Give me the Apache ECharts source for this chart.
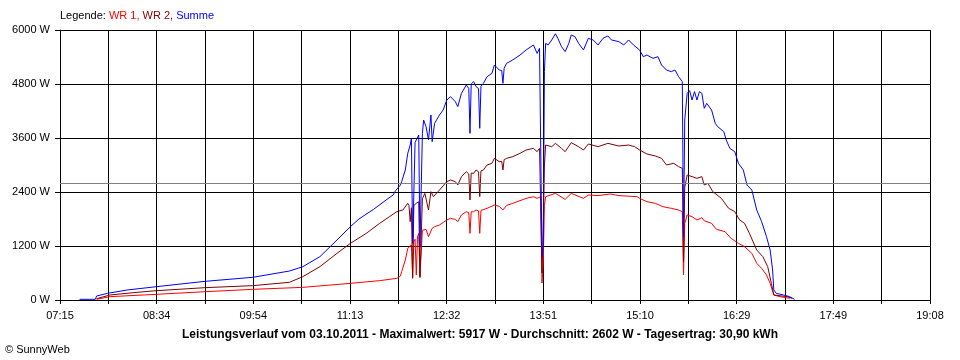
<!DOCTYPE html>
<html><head><meta charset="utf-8">
<script src="https://cdn.jsdelivr.net/npm/echarts@6/dist/echarts.min.js"></script>
<style>html,body{margin:0;padding:0;background:#fff}#c{width:960px;height:360px}</style>
</head><body><div id="c"></div><script>
// Axis definition
const X_START = '07:15';
const X_END = '19:08';
const X_GRID_COUNT = 18;
const X_TICK_LABELS = ['07:15','08:34','09:54','11:13','12:32','13:51','15:10','16:29','17:49','19:08'];
const Y_MAX = 6000;
const Y_STEP = 1200;
const AVERAGE_W = 2602;

const LEGEND_PREFIX = 'Legende: ';
const SERIES_NAMES = ['WR 1', 'WR 2', 'Summe'];
const TITLE_TEXT = 'Leistungsverlauf vom 03.10.2011 - Maximalwert: 5917 W - Durchschnitt: 2602 W - Tagesertrag: 30,90 kWh';
const COPYRIGHT = '\u00A9 SunnyWeb';

// Summe (blue)
const SUM_T = ['07:31','07:44','07:45','07:54','08:10','08:34','09:14','09:53','10:23','10:34','10:48','11:02','11:13','11:20','11:32','11:43','11:48','11:50','11:54','11:55','11:58','12:00','12:02','12:03','12:04','12:05','12:06','12:07','12:09','12:10','12:11','12:12','12:13','12:15','12:17','12:19','12:20','12:22','12:26','12:29','12:32','12:35','12:39','12:41','12:44','12:48','12:50','12:51','12:52','12:54','12:56','12:58','12:59','13:00','13:02','13:05','13:09','13:11','13:15','13:17','13:18','13:19','13:21','13:26','13:32','13:37','13:43','13:46','13:48','13:49','13:50','13:51','13:52','13:53','13:55','13:58','14:01','14:03','14:06','14:09','14:12','14:14','14:17','14:20','14:24','14:28','14:32','14:36','14:40','14:44','14:47','14:53','14:57','15:01','15:05','15:10','15:13','15:16','15:21','15:25','15:28','15:32','15:36','15:39','15:42','15:45','15:46','15:47','15:49','15:51','15:53','15:55','15:57','15:59','16:01','16:03','16:05','16:09','16:12','16:14','16:19','16:21','16:24','16:28','16:31','16:35','16:38','16:42','16:46','16:50','16:54','16:57','16:59','17:00','17:02','17:08','17:13','17:17'];
const SUM_W = [15,15,89,148,222,296,415,504,644,740,963,1333,1630,1800,2015,2237,2333,2430,2556,2630,2889,3259,3444,3600,1260,1300,3500,3481,3667,1200,1185,3700,4000,3852,3556,4111,3519,3926,4111,4222,4444,4519,4407,4296,4593,4778,4700,3704,4800,4852,4741,4700,3815,4750,4815,4963,5037,5222,5111,5100,4815,5150,5259,5333,5444,5556,5667,5481,5593,5630,960,1200,5074,5704,5667,5778,5917,5815,5630,5519,5704,5889,5852,5704,5556,5815,5778,5667,5815,5867,5778,5741,5667,5778,5667,5556,5407,5444,5370,5407,5222,5111,5074,5111,4963,4852,1400,4000,4593,4652,4444,4630,4444,4630,4593,4259,4370,4222,3926,3852,3741,3556,3370,3296,3037,2889,2556,2444,2000,1741,1407,1111,667,222,148,111,74,15];

// WR 2 (dark red)
const WR2_T = ['07:45','07:46','07:56','08:15','08:34','09:14','09:53','10:23','10:34','10:48','11:02','11:13','11:26','11:37','11:45','11:51','11:56','12:00','12:01','12:02','12:03','12:04','12:05','12:07','12:09','12:10','12:11','12:12','12:14','12:17','12:19','12:21','12:26','12:32','12:35','12:39','12:41','12:44','12:48','12:50','12:51','12:52','12:54','12:56','12:58','12:59','13:00','13:02','13:05','13:09','13:11','13:15','13:17','13:18','13:19','13:21','13:26','13:32','13:37','13:43','13:46','13:48','13:49','13:50','13:51','13:52','13:53','13:58','14:01','14:06','14:09','14:14','14:20','14:24','14:28','14:36','14:44','14:53','15:01','15:06','15:10','15:16','15:23','15:28','15:32','15:38','15:42','15:45','15:46','15:47','15:49','15:53','15:57','16:01','16:03','16:06','16:10','16:17','16:23','16:28','16:32','16:36','16:40','16:46','16:51','16:55','16:58','17:00','17:11','17:15'];
const WR2_W = [30,74,111,163,207,274,319,393,519,741,1037,1259,1481,1704,1852,1963,2000,2148,2100,1741,2050,481,2100,2148,2185,500,481,2250,2370,2000,2407,2296,2444,2630,2667,2630,2556,2741,2852,2800,2222,2820,2815,2889,2850,2296,2870,2889,3000,3037,3148,3074,3080,2889,3120,3148,3185,3259,3333,3370,3296,3370,3380,600,1500,3000,3444,3407,3481,3370,3296,3496,3407,3333,3467,3407,3481,3422,3444,3407,3333,3244,3200,3148,3000,3037,2963,2926,852,2500,2778,2741,2704,2741,2556,2593,2407,2259,2037,1963,1778,1704,1481,1111,963,741,370,111,74,37];

// WR 1 (red)
const WR1_T = ['07:45','07:46','07:56','08:34','09:14','09:53','10:34','11:13','11:37','11:51','11:52','11:54','11:55','11:58','12:00','12:03','12:04','12:05','12:06','12:07','12:08','12:09','12:10','12:11','12:12','12:13','12:15','12:17','12:20','12:22','12:26','12:32','12:35','12:39','12:41','12:44','12:48','12:50','12:51','12:52','12:54','12:56','12:58','12:59','13:00','13:05','13:11','13:15','13:18','13:21','13:26','13:32','13:37','13:43','13:46','13:49','13:50','13:51','13:52','13:53','14:01','14:09','14:14','14:24','14:28','14:36','14:46','14:53','15:08','15:10','15:16','15:23','15:29','15:36','15:42','15:45','15:46','15:47','15:49','15:53','15:57','16:01','16:03','16:09','16:13','16:20','16:25','16:31','16:36','16:42','16:46','16:50','16:54','16:57','17:00','17:05','17:13'];
const WR1_W = [15,59,74,126,185,237,281,370,430,481,504,533,630,889,1148,1222,519,1300,1350,555,1407,1481,519,500,1550,1593,1570,1407,1593,1630,1667,1778,1815,1790,1741,1889,1963,1940,1481,1960,1963,2000,1980,1481,1990,2037,2111,2080,2000,2100,2148,2207,2259,2296,2259,2296,378,800,2100,2296,2370,2237,2370,2259,2333,2320,2356,2320,2296,2259,2185,2148,2074,2037,2000,1963,555,1700,1889,1852,1778,1830,1760,1704,1570,1519,1370,1259,1185,1037,815,704,556,370,111,74,37];

const COLORS = ['#ff0000', '#800000', '#0000ff'];

function toMin(s) { const p = s.split(':'); return (+p[0]) * 60 + (+p[1]); }
const T0 = toMin(X_START);
const STEP = (toMin(X_END) - T0) / X_GRID_COUNT;
function pts(T, W) { return T.map((t, i) => [(toMin(t) - T0) / STEP, W[i]]); }

const FONT = 'Liberation Sans, Arial, sans-serif';
const chart = echarts.init(document.getElementById('c'), null, { renderer: 'canvas' });
chart.setOption({
  animation: false,
  backgroundColor: '#ffffff',
  title: [
    {
      text: '{k|' + LEGEND_PREFIX + '}{a|' + SERIES_NAMES[0] + ', }{b|' + SERIES_NAMES[1] + ', }{c|' + SERIES_NAMES[2] + '}',
      left: 60, top: 10, padding: 0,
      textStyle: {
        fontFamily: FONT, fontSize: 11, fontWeight: 'normal',
        rich: {
          k: { color: '#000', fontFamily: FONT, fontSize: 11 },
          a: { color: COLORS[0], fontFamily: FONT, fontSize: 11 },
          b: { color: COLORS[1], fontFamily: FONT, fontSize: 11 },
          c: { color: COLORS[2], fontFamily: FONT, fontSize: 11 }
        }
      }
    },
    {
      text: TITLE_TEXT, left: 'center', top: 329, padding: 0,
      textStyle: { fontFamily: FONT, fontSize: 12, fontWeight: 'bold', color: '#000' }
    },
    {
      text: COPYRIGHT, left: 5, top: 344, padding: 0,
      textStyle: { fontFamily: FONT, fontSize: 11, fontWeight: 'normal', color: '#000' }
    }
  ],
  grid: { left: 60, right: 30, top: 30, bottom: 60, containLabel: false },
  xAxis: {
    type: 'value', min: 0, max: X_GRID_COUNT, interval: 1,
    axisLine: { show: true, lineStyle: { color: '#000', width: 1 } },
    axisTick: { show: true, length: 4, lineStyle: { color: '#000' } },
    splitLine: { show: true, lineStyle: { color: '#000', width: 1 } },
    axisLabel: {
      color: '#000', fontFamily: FONT, fontSize: 11, margin: 10,
      showMinLabel: true, showMaxLabel: true,
      formatter: v => { const r = Math.round(v); return r % 2 === 0 ? X_TICK_LABELS[r / 2] : ''; }
    }
  },
  yAxis: {
    type: 'value', min: 0, max: Y_MAX, interval: Y_STEP,
    axisLine: { show: true, lineStyle: { color: '#000', width: 1 } },
    axisTick: { show: true, length: 5, lineStyle: { color: '#000' } },
    splitLine: { show: true, lineStyle: { color: '#000', width: 1 } },
    axisLabel: { color: '#000', fontFamily: FONT, fontSize: 11, margin: 10, formatter: v => v + ' W' }
  },
  series: [
    {
      name: SERIES_NAMES[0], type: 'line', data: pts(WR1_T, WR1_W), showSymbol: false,
      lineStyle: { color: COLORS[0], width: 1 }, itemStyle: { color: COLORS[0] },
      markLine: {
        silent: true, symbol: 'none', label: { show: false },
        lineStyle: { color: '#808080', width: 1, type: 'solid' },
        data: [{ yAxis: AVERAGE_W }]
      }
    },
    {
      name: SERIES_NAMES[1], type: 'line', data: pts(WR2_T, WR2_W), showSymbol: false,
      lineStyle: { color: COLORS[1], width: 1 }, itemStyle: { color: COLORS[1] }
    },
    {
      name: SERIES_NAMES[2], type: 'line', data: pts(SUM_T, SUM_W), showSymbol: false,
      lineStyle: { color: COLORS[2], width: 1 }, itemStyle: { color: COLORS[2] }
    }
  ]
});
</script></body></html>
